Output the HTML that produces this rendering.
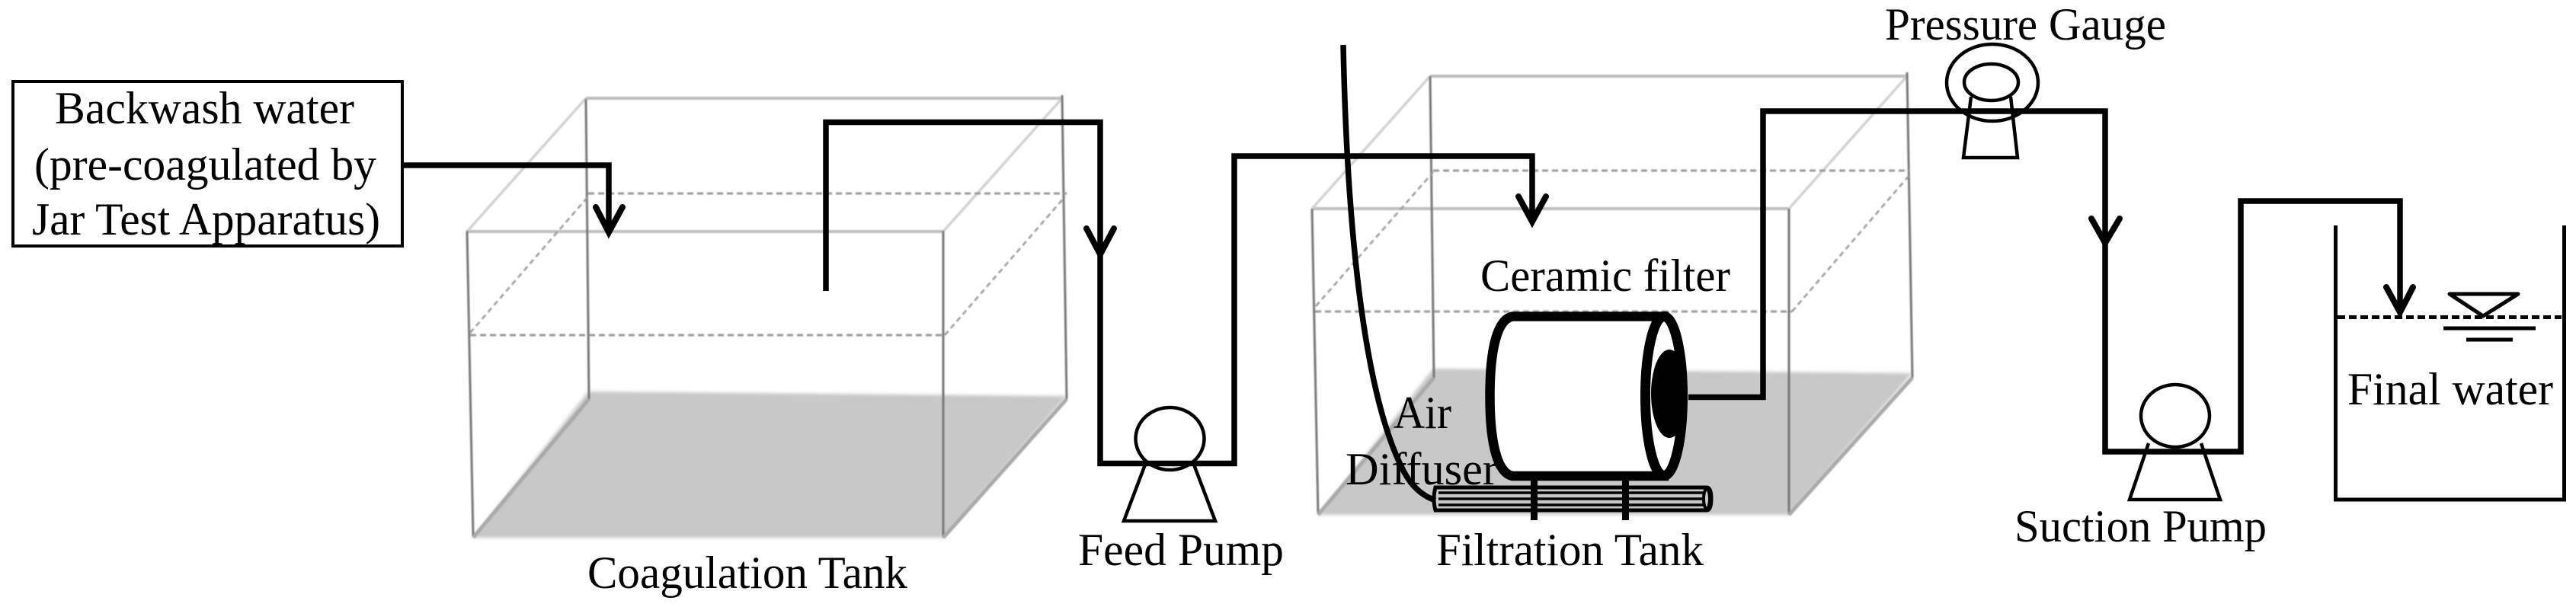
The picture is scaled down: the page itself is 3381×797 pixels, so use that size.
<!DOCTYPE html>
<html>
<head>
<meta charset="utf-8">
<style>
html,body{margin:0;padding:0;background:#fff}
svg{display:block}
text{font-family:"Liberation Serif",serif;font-size:60px;fill:#000}
</style>
</head>
<body>
<svg xmlns="http://www.w3.org/2000/svg" width="3381" height="797" viewBox="0 0 3381 797">
<defs>
<filter id="b1" x="-5%" y="-5%" width="110%" height="110%"><feGaussianBlur stdDeviation="0.9"/></filter>
<filter id="b2" x="-5%" y="-5%" width="110%" height="110%"><feGaussianBlur stdDeviation="2"/></filter>
</defs>
<rect width="3381" height="797" fill="#fff"/>

<!-- Coagulation tank -->
<polygon points="621,706 1238,706 1400,520 772,514" fill="#c8c8c8" filter="url(#b2)"/>
<line x1="772" y1="519" x2="1400" y2="519" stroke="#aaa" stroke-width="12" filter="url(#b2)"/>
<line x1="621" y1="700" x2="1238" y2="700" stroke="#aaa" stroke-width="9" filter="url(#b2)"/>
<g fill="none" filter="url(#b1)">
<path d="M613,304 H1238 M769,129 H1394" stroke="#bdbdbd" stroke-width="4"/>
<path d="M613,304 L769,129 M1238,304 L1394,129" stroke="#d2d2d2" stroke-width="3.5"/>
<path d="M613,303 L621,704 M1238,303 V706 M769,130 L773,524 M1394,125 L1400,524" stroke="#777" stroke-width="3"/>
<path d="M1238,706 L1400,524 M621,706 L773,524" stroke="#aaa" stroke-width="5"/>
<path d="M617,440 H1240 M772,254 H1400" stroke="#999" stroke-width="3" stroke-dasharray="8 5"/>
<path d="M617,437 L772,258 M1240,440 L1398,258" stroke="#999" stroke-width="2.5" stroke-dasharray="7 5"/>
</g>

<!-- Filtration tank -->
<polygon points="1730,676 2348,676 2510,490 1881,484" fill="#c8c8c8" filter="url(#b2)"/>
<line x1="1881" y1="490" x2="2510" y2="490" stroke="#aaa" stroke-width="12" filter="url(#b2)"/>
<line x1="1730" y1="671" x2="2348" y2="671" stroke="#aaa" stroke-width="9" filter="url(#b2)"/>
<g fill="none" filter="url(#b1)">
<path d="M1722,274 H2348 M1877,100 H2503" stroke="#bdbdbd" stroke-width="4"/>
<path d="M1722,274 L1877,100 M2348,274 L2503,100" stroke="#d2d2d2" stroke-width="3.5"/>
<path d="M1722,274 L1730,675 M2348,274 V676 M1877,100 L1882,496 M2503,95 L2510,496" stroke="#777" stroke-width="3"/>
<path d="M2348,676 L2510,496 M1730,676 L1882,496" stroke="#aaa" stroke-width="5"/>
<path d="M1726,409 H2352 M1881,224 H2507" stroke="#999" stroke-width="3" stroke-dasharray="8 5"/>
<path d="M1727,402 L1881,226 M2352,409 L2507,229" stroke="#999" stroke-width="2.5" stroke-dasharray="7 5"/>
</g>

<!-- Backwash box -->
<rect x="17" y="107" width="511" height="216" fill="#fff" stroke="#000" stroke-width="4"/>

<!-- Pipes -->
<g fill="none" stroke="#000" stroke-width="7.5" stroke-linejoin="miter">
<path d="M528,217 H799 V300"/>
<path d="M1084,382 V160.5 H1444 V608.5 H1620 V205 H2011 V285"/>
<path d="M2216,521.5 H2314 V146 H2763 V593 H2941 V264 H3150 V405"/>
<path d="M1763,59 C1768,300 1790,520 1843,620 Q1858,648 1884,657"/>
</g>
<!-- Arrowheads -->
<g fill="none" stroke="#000" stroke-width="8" stroke-linecap="round">
<path d="M782,272 L799,305 L817,272"/>
<path d="M1426,300 L1444,334 L1462,300"/>
<path d="M1993,258 L2011,291 L2029,258"/>
<path d="M2745,287 L2763,319 L2782,287"/>
<path d="M3132,377 L3150,410 L3167,377"/>
</g>

<!-- Pumps, gauge, final tank -->
<g fill="none" stroke="#000" stroke-width="4.5">
<ellipse cx="1535.5" cy="576" rx="45" ry="41"/>
<path d="M1503,610 L1475,684 H1595 L1567,610"/>
<ellipse cx="2615" cy="108.5" rx="60" ry="50.5"/>
<ellipse cx="2613.5" cy="108" rx="35.5" ry="24"/>
<path d="M2587,127 L2577,207 H2648 L2639,127"/>
<ellipse cx="2855" cy="546" rx="45" ry="41"/>
<path d="M2820,582 L2795,656 H2914 L2889,582"/>
<path d="M3065.5,296 V656 H3365.5 V296" stroke-width="5"/>
<path d="M3215,386 H3305 L3259,415 Z" stroke-width="5" stroke-linejoin="round"/>
<path d="M3207,431 H3328 M3237,446 H3298" stroke-width="5"/>
</g>
<line x1="3068" y1="416.5" x2="3362" y2="416.5" stroke="#000" stroke-width="5" stroke-dasharray="10 5"/>

<!-- Diffuser -->
<g fill="none" stroke="#000">
<path d="M1884,640 H2240 Q2246,640 2246,655 Q2246,670 2240,670 H1884 Q1880,655 1884,640 Z" stroke-width="5"/>
<path d="M1888,647 H2236 M1888,655 H2236 M1888,663 H2236" stroke-width="3.5"/>
<ellipse cx="2240" cy="655" rx="4" ry="13" stroke-width="4"/>
</g>

<!-- Ceramic filter -->
<path d="M2184,415.5 H1985 C1962,420 1955.5,470 1955.5,520 C1955.5,570 1962,620 1985,625 H2184 Z" fill="#fff" stroke="#000" stroke-width="12.5"/>
<ellipse cx="2184" cy="520" rx="24.5" ry="104.5" fill="#fff" stroke="#000" stroke-width="13"/>
<ellipse cx="2191" cy="517" rx="24" ry="58" fill="#000"/>
<path d="M2013.5,628 V683 M2133.5,628 V683" stroke="#000" stroke-width="9"/>

<!-- Labels -->
<text x="72" y="162" textLength="393" lengthAdjust="spacingAndGlyphs">Backwash water</text>
<text x="45" y="236" textLength="449" lengthAdjust="spacingAndGlyphs">(pre-coagulated by</text>
<text x="42" y="308" textLength="457" lengthAdjust="spacingAndGlyphs">Jar Test Apparatus)</text>
<text x="771" y="772" textLength="420" lengthAdjust="spacingAndGlyphs">Coagulation Tank</text>
<text x="1415" y="742" textLength="270" lengthAdjust="spacingAndGlyphs">Feed Pump</text>
<text x="1885" y="742" textLength="351" lengthAdjust="spacingAndGlyphs">Filtration Tank</text>
<text x="1943" y="382" textLength="328" lengthAdjust="spacingAndGlyphs">Ceramic filter</text>
<text x="1829" y="562" textLength="76" lengthAdjust="spacingAndGlyphs">Air</text>
<text x="1766" y="636" textLength="200" lengthAdjust="spacingAndGlyphs">Diffuser</text>
<text x="2474" y="52" textLength="369" lengthAdjust="spacingAndGlyphs">Pressure Gauge</text>
<text x="2644" y="711" textLength="331" lengthAdjust="spacingAndGlyphs">Suction Pump</text>
<text x="3081" y="531" textLength="270" lengthAdjust="spacingAndGlyphs">Final water</text>
</svg>
</body>
</html>
